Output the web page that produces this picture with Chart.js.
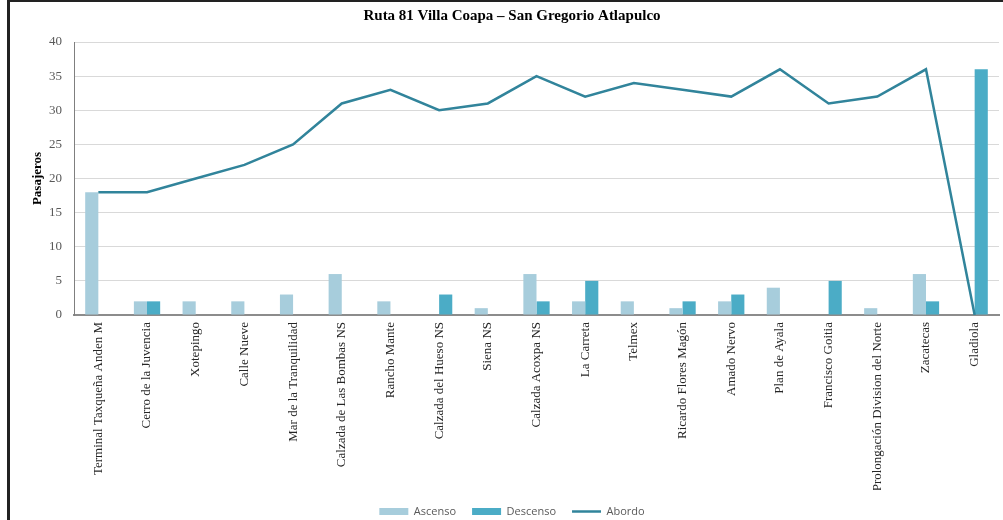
<!DOCTYPE html>
<html>
<head>
<meta charset="utf-8">
<script src="https://cdn.jsdelivr.net/npm/chart.js@4/dist/chart.umd.min.js"></script>
<style>
    body { margin: 0; background: #fff; }
    #wrap { width: 1003px; height: 520px; position: relative; }
</style>
</head>
<body>
<div id="wrap"><canvas id="myChart"></canvas></div>
<script>
    // stops along the route
    const paradas = [
        'Terminal Taxqueña Anden M', 'Cerro de la Juvencia', 'Xotepingo', 'Calle Nueve',
        'Mar de la Tranquilidad', 'Calzada de Las Bombas NS', 'Rancho Mante', 'Calzada del Hueso NS',
        'Siena NS', 'Calzada Acoxpa NS', 'La Carreta', 'Telmex', 'Ricardo Flores Magón',
        'Amado Nervo', 'Plan de Ayala', 'Francisco Goitia', 'Prolongación Division del Norte',
        'Zacatecas', 'Gladiola'
    ]
    const ascenso = [18, 2, 2, 2, 3, 6, 2, 0, 1, 6, 2, 2, 1, 2, 4, 0, 1, 6, 0]
    const descenso = [0, 2, 0, 0, 0, 0, 0, 3, 0, 2, 5, 0, 2, 3, 0, 5, 0, 2, 36]
    const abordo = [18, 18, 20, 22, 25, 31, 33, 30, 31, 35, 32, 34, 33, 32, 36, 31, 32, 36, 0]
    const yTicks = [0, 5, 10, 15, 20, 25, 30, 35, 40]

    const serif = "'Liberation Serif', 'Times New Roman', serif"

    // white page plus the dark frame at the top and left
    const frame = {
        id: 'frame',
        beforeDraw(chart) {
            let ctx = chart.ctx
            ctx.save()
            ctx.fillStyle = '#fff'
            ctx.fillRect(0, 0, chart.width, chart.height)
            ctx.fillStyle = '#222'
            ctx.fillRect(7, 0, 3, chart.height)
            ctx.fillRect(7, 0, chart.width - 7, 2)
            ctx.restore()
        }
    }

    let ctx = document.getElementById('myChart')
    let myChart = new Chart(ctx, {
        type: 'bar',
        data: {
            labels: paradas,
            datasets: [{
                label: 'Ascenso',
                data: ascenso,
                backgroundColor: '#a7cddc',
                borderWidth: 0,
                pointStyle: 'rect',
                order: 2
            }, {
                label: 'Descenso',
                data: descenso,
                backgroundColor: '#4bacc6',
                borderWidth: 0,
                pointStyle: 'rect',
                order: 2
            }, {
                type: 'line',
                label: 'Abordo',
                data: abordo,
                borderColor: '#31849b',
                backgroundColor: '#31849b',
                borderWidth: 2.5,
                pointRadius: 0,
                pointStyle: 'line',
                tension: 0,
                order: 1
            }]
        },
        options: {
            responsive: true,
            maintainAspectRatio: false,
            animation: false,
            datasets: {
                bar: { barPercentage: 1, categoryPercentage: 0.54 }
            },
            // negative bottom pushes the legend down to the page edge
            layout: { padding: { left: 25, right: 4, top: 0, bottom: -7 } },
            plugins: {
                title: {
                    display: true,
                    text: 'Ruta 81 Villa Coapa – San Gregorio Atlapulco',
                    color: '#000',
                    font: { family: serif, size: 15, weight: 'bold' },
                    padding: { top: 7, bottom: 17 }
                },
                legend: {
                    position: 'bottom',
                    labels: {
                        usePointStyle: true,
                        pointStyleWidth: 29,
                        boxHeight: 7,
                        color: '#595959',
                        font: { family: "'Open Sans', sans-serif", size: 11 },
                        padding: 16,
                        sort: (a, b) => a.datasetIndex - b.datasetIndex
                    }
                },
                tooltip: { enabled: false }
            },
            scales: {
                x: {
                    grid: { display: false, drawTicks: false },
                    border: { color: '#8c8c8c', width: 2 },
                    ticks: {
                        color: '#262626',
                        font: { family: serif, size: 13 },
                        maxRotation: 90,
                        minRotation: 90,
                        autoSkip: false,
                        padding: 7
                    },
                    afterFit: function (scale) { scale.height = 175 }
                },
                y: {
                    min: 0,
                    max: 40,
                    afterBuildTicks: function (scale) {
                        scale.ticks = yTicks.map(v => ({ value: v }))
                    },
                    grid: { color: '#d9d9d9', drawTicks: false },
                    border: { color: '#7f7f7f', width: 1 },
                    ticks: {
                        color: '#595959',
                        font: { family: serif, size: 13 },
                        padding: 12
                    },
                    title: {
                        display: true,
                        text: 'Pasajeros',
                        color: '#000',
                        font: { family: serif, size: 13, weight: 'bold' },
                        padding: { top: 5, bottom: 4 }
                    },
                    afterFit: function (scale) { scale.width = 49 }
                }
            }
        },
        plugins: [frame]
    })
</script>
</body>
</html>
